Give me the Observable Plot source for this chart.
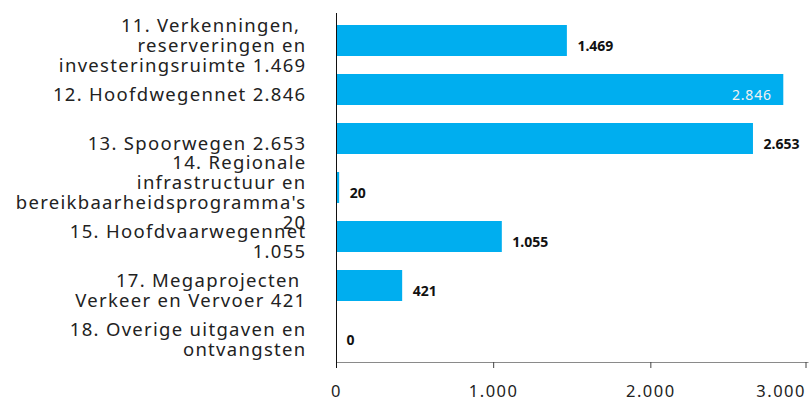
<!DOCTYPE html>
<html><head><meta charset="utf-8">
<script src="https://cdn.jsdelivr.net/npm/d3@7"></script>
<script src="https://cdn.jsdelivr.net/npm/@observablehq/plot@0.6"></script>
<style>body{margin:0;background:#fff;}</style>
</head><body><div id="chart"></div>
<script>
const categories = ["11", "12", "13", "14", "15", "17", "18"];
const labels = [
  "11. Verkenningen,\u00a0\nreserveringen en\ninvesteringsruimte 1.469",
  "12. Hoofdwegennet 2.846",
  "13. Spoorwegen 2.653",
  "14. Regionale\ninfrastructuur en\nbereikbaarheidsprogramma's\n20",
  "15. Hoofdvaarwegennet\n1.055",
  "17. Megaprojecten\u00a0\nVerkeer en Vervoer 421",
  "18. Overige uitgaven en\nontvangsten"
];
const values = [1469, 2846, 2653, 20, 1055, 421, 0];
const xTicks = [0, 1000, 2000, 3000];

const nl = d3.formatLocale({decimal: ",", thousands: ".", grouping: [3], currency: ["€", ""]});
const fmt = nl.format(",d");
const data = categories.map((c, i) => ({cat: c, label: labels[i], value: values[i]}));
const maxV = d3.max(values);
const inside = d => d.value === maxV;

const tickOpts = {tickSize: 6, tickPadding: 17, tickFormat: fmt, fontSize: 16.5, stroke: "#444", fill: "#222", label: null};

const chart = Plot.plot({
  width: 809, height: 401,
  marginLeft: 336, marginRight: 1.5, marginTop: 13, marginBottom: 39,
  style: {fontFamily: "'Noto Sans', sans-serif", background: "#fff", overflow: "visible"},
  x: {domain: [0, 3000], axis: null, label: null},
  y: {domain: categories, paddingInner: 0.37, paddingOuter: 0.22, axis: null},
  marks: [
    Plot.barX(data, {x: "value", y: "cat", fill: "#00AEEF"}),
    Plot.frame({anchor: "bottom", stroke: "#8a8a8a"}),
    Plot.axisX(xTicks.slice(0, -1), tickOpts),
    Plot.axisX(xTicks.slice(-1), {...tickOpts, textAnchor: "end", dx: -2}),
    Plot.ruleX([0], {stroke: "#111", insetBottom: -6}),
    Plot.text(data, {x: 0, y: "cat", text: "label", textAnchor: "end", dx: -30, dy: 5, lineHeight: 1.08, fontSize: 18.5, fill: "#222"}),
    Plot.text(data.filter(d => !inside(d)), {x: "value", y: "cat", text: d => fmt(d.value), textAnchor: "start", dx: 10, dy: 6, fontWeight: "bold", fontSize: 14, fill: "#111"}),
    Plot.text(data.filter(inside), {x: "value", y: "cat", text: d => fmt(d.value), textAnchor: "end", dx: -12, dy: 6, fontSize: 14, fill: "#f2f2f2"})
  ]
});
const svg = d3.select(chart);
const textGroups = svg.selectAll('g[aria-label="text"]').nodes();
d3.select(textGroups[0]).attr("letter-spacing", "1.3px");
d3.select(textGroups[2]).attr("letter-spacing", "0.8px");
svg.selectAll('g[aria-label="x-axis tick label"]').attr("letter-spacing", "1.5px");
document.getElementById("chart").appendChild(chart);
</script>
</body></html>
